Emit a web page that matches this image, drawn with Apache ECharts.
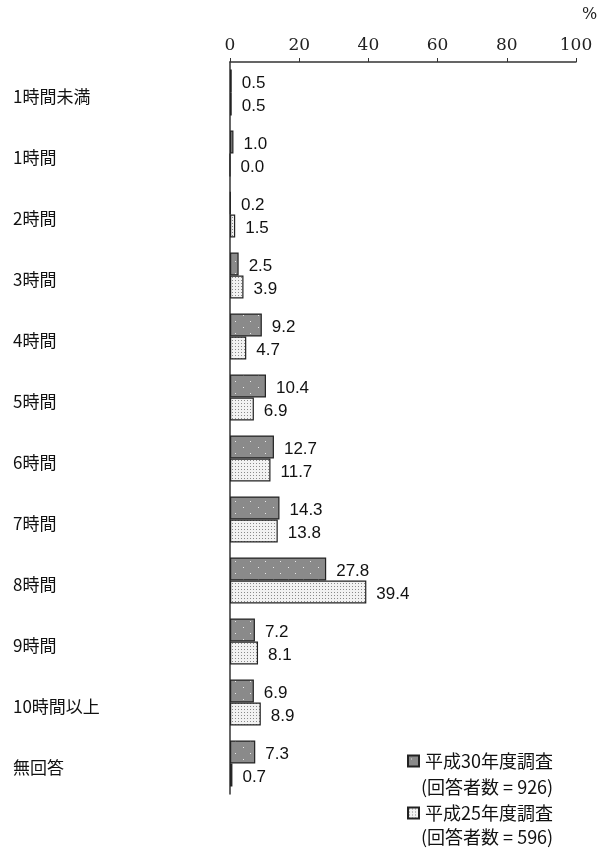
<!DOCTYPE html>
<html><head><meta charset="utf-8">
<script src="https://cdn.jsdelivr.net/npm/echarts@6/dist/echarts.min.js"></script>
<style>html,body{margin:0;padding:0;background:#fff}#c{width:598px;height:856px}</style>
</head><body><div id="c"></div>
<script>
const categories = ['1時間未満','1時間','2時間','3時間','4時間','5時間','6時間','7時間','8時間','9時間','10時間以上','無回答'];
const seriesNames = ['平成30年度調査','平成25年度調査'];
const respondents = ['(回答者数 = 926)','(回答者数 = 596)'];
const h30 = [0.5,1.0,0.2,2.5,9.2,10.4,12.7,14.3,27.8,7.2,6.9,7.3];
const h25 = [0.5,0.0,1.5,3.9,4.7,6.9,11.7,13.8,39.4,8.1,8.9,0.7];
const xTicks = [0,20,40,60,80,100];

function pat1(){
  const c=document.createElement('canvas');c.width=15;c.height=12;
  const g=c.getContext('2d');g.fillStyle='#8a8a8a';g.fillRect(0,0,15,12);
  g.fillStyle='#e8e8e8';g.fillRect(3,3,1,1);g.fillRect(10,9,1,1);return c;
}
function pat2(){
  const c=document.createElement('canvas');c.width=3;c.height=3;
  const g=c.getContext('2d');g.fillStyle='#f2f2f2';g.fillRect(0,0,3,3);
  g.fillStyle='#8a8a8a';g.fillRect(1,1,1,1);return c;
}
const chart = echarts.init(document.getElementById('c'));
const lbl = {show:true,position:'right',distance:10,offset:[0,2],color:'#111',fontSize:17,fontFamily:'Liberation Sans, Arial, sans-serif',formatter:p=>p.value.toFixed(1)};
const cjk = 'Noto Sans CJK JP, sans-serif';
chart.setOption({
  animation:false,
  grid:{left:230,top:62,width:346,height:732},
  xAxis:{type:'value',position:'top',min:xTicks[0],max:xTicks[xTicks.length-1],interval:20,
    axisLine:{show:true,lineStyle:{color:'#333',width:1.5}},
    axisTick:{show:true,length:4,lineStyle:{color:'#333'}},
    axisLabel:{margin:8,color:'#222',fontSize:17,fontFamily:'DejaVu Serif, Liberation Serif, serif'},
    splitLine:{show:false}},
  yAxis:{type:'category',inverse:true,data:categories,
    axisLine:{show:true,lineStyle:{color:'#333',width:1.5}},
    axisTick:{show:false},
    axisLabel:{align:'left',margin:217,color:'#111',fontSize:17,fontFamily:cjk,
      formatter:v=>'{a|'+v+'}',
      rich:{a:{fontSize:17,fontFamily:cjk,color:'#111',padding:[8,0,0,0]}}}},
  legend:{orient:'vertical',left:402,top:747,icon:'rect',itemWidth:11,itemHeight:11,itemGap:34,
    textStyle:{fontSize:18,color:'#111',fontFamily:cjk,padding:[0,0,0,1]},
    data:seriesNames},
  graphic:[
    {type:'text',left:582,top:7,style:{text:'%',fontSize:16,fill:'#222',fontFamily:'DejaVu Serif, serif'}},
    {type:'text',left:421,top:778,style:{text:respondents[0],fontSize:18,fill:'#111',fontFamily:cjk}},
    {type:'text',left:421,top:828,style:{text:respondents[1],fontSize:18,fill:'#111',fontFamily:cjk}}
  ],
  series:[
    {name:seriesNames[0],type:'bar',data:h30,barWidth:23,barGap:'0%',
      itemStyle:{color:{image:pat1(),repeat:'repeat'},borderColor:'#222',borderWidth:1.2},label:lbl},
    {name:seriesNames[1],type:'bar',data:h25,barWidth:23,barGap:'0%',
      itemStyle:{color:{image:pat2(),repeat:'repeat'},borderColor:'#222',borderWidth:1.2},label:lbl}
  ]
});
</script></body></html>
